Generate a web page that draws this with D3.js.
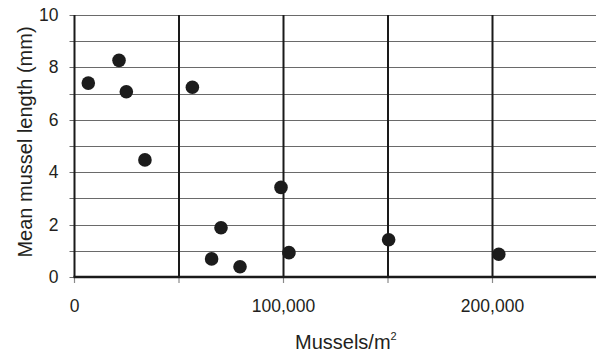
<!DOCTYPE html>
<html>
<head>
<meta charset="utf-8">
<script src="https://cdn.jsdelivr.net/npm/d3@7"></script>
<style>
  body { margin: 0; background: #fff; }
  svg text { font-family: "Liberation Sans", Arial, sans-serif; fill: #231f20; }
</style>
</head>
<body>
<script>
// mussel density vs mean length
var density = [6600, 21300, 24800, 33700, 56400, 65600, 70100, 79200, 98800, 102600, 150300, 203000];
var meanLength = [7.40, 8.27, 7.07, 4.47, 7.24, 0.69, 1.88, 0.39, 3.42, 0.93, 1.42, 0.87];

var xTicks = [0, 50000, 100000, 150000, 200000];
var xLabels = [0, 100000, 200000];
var yTicks = d3.range(0, 11);
var yLabels = [0, 2, 4, 6, 8, 10];

var margin = { top: 15, right: 0, bottom: 77, left: 74.5 },
    W = 596, H = 354,
    width = 522.5,
    height = 277 - margin.top;

var x = d3.scaleLinear().domain([0, 250000]).range([0, width]);
var y = d3.scaleLinear().domain([0, 10]).range([height, 0]);

var svg = d3.select("body").append("svg")
    .attr("width", W)
    .attr("height", H);

var g = svg.append("g")
    .attr("transform", "translate(" + margin.left + "," + margin.top + ")");

// horizontal grid, sticking out left as ticks
g.append("g").selectAll("line")
    .data(yTicks)
    .enter().append("line")
    .attr("x1", -5).attr("x2", width + 10)
    .attr("y1", function (d) { return Math.round(y(d)) + 0.5; })
    .attr("y2", function (d) { return Math.round(y(d)) + 0.5; })
    .attr("stroke", "#6a6a6a")
    .attr("stroke-width", 1.2);

// x ticks below the axis
g.append("g").selectAll("line")
    .data(xTicks)
    .enter().append("line")
    .attr("x1", function (d) { return x(d); })
    .attr("x2", function (d) { return x(d); })
    .attr("y1", height).attr("y2", height + 6)
    .attr("stroke", "#8a8a8a")
    .attr("stroke-width", 1.2);

// vertical black lines
g.append("g").selectAll("line")
    .data(xTicks.filter(function (d) { return d > 0; }))
    .enter().append("line")
    .attr("x1", function (d) { return x(d); })
    .attr("x2", function (d) { return x(d); })
    .attr("y1", 0).attr("y2", height)
    .attr("stroke", "#1a1a1a")
    .attr("stroke-width", 2);

// axes lines
g.append("line")
    .attr("x1", 0).attr("x2", 0)
    .attr("y1", 0).attr("y2", height)
    .attr("stroke", "#1a1a1a").attr("stroke-width", 2);
g.append("line")
    .attr("x1", -1).attr("x2", width + 10)
    .attr("y1", height).attr("y2", height)
    .attr("stroke", "#1a1a1a").attr("stroke-width", 2.5);

// tick labels
g.append("g").selectAll("text")
    .data(yLabels)
    .enter().append("text")
    .attr("x", -16)
    .attr("y", function (d) { return y(d) + 6; })
    .attr("text-anchor", "end")
    .style("font-size", "17.5px")
    .text(function (d) { return d; });

var fmt = d3.format(",");
g.append("g").selectAll("text")
    .data(xLabels)
    .enter().append("text")
    .attr("x", function (d) { return x(d); })
    .attr("y", 297)
    .attr("text-anchor", "middle")
    .style("font-size", "17.5px")
    .text(function (d) { return fmt(d); });

// points
g.append("g").selectAll("circle")
    .data(density)
    .enter().append("circle")
    .attr("cx", function (d) { return x(d); })
    .attr("cy", function (d, i) { return y(meanLength[i]); })
    .attr("r", 6.8)
    .attr("fill", "#1c1c1c");

// axis titles
var xt = svg.append("text")
    .attr("x", 295)
    .attr("y", 349)
    .style("font-size", "20px");
xt.append("tspan").text("Mussels/m");
xt.append("tspan")
    .attr("dy", -9)
    .style("font-size", "11px")
    .text("2");

svg.append("text")
    .attr("transform", "translate(32," + (margin.top + height / 2 - 4) + ") rotate(-90)")
    .attr("text-anchor", "middle")
    .style("font-size", "20px")
    .text("Mean mussel length (mm)");
</script>
</body>
</html>
